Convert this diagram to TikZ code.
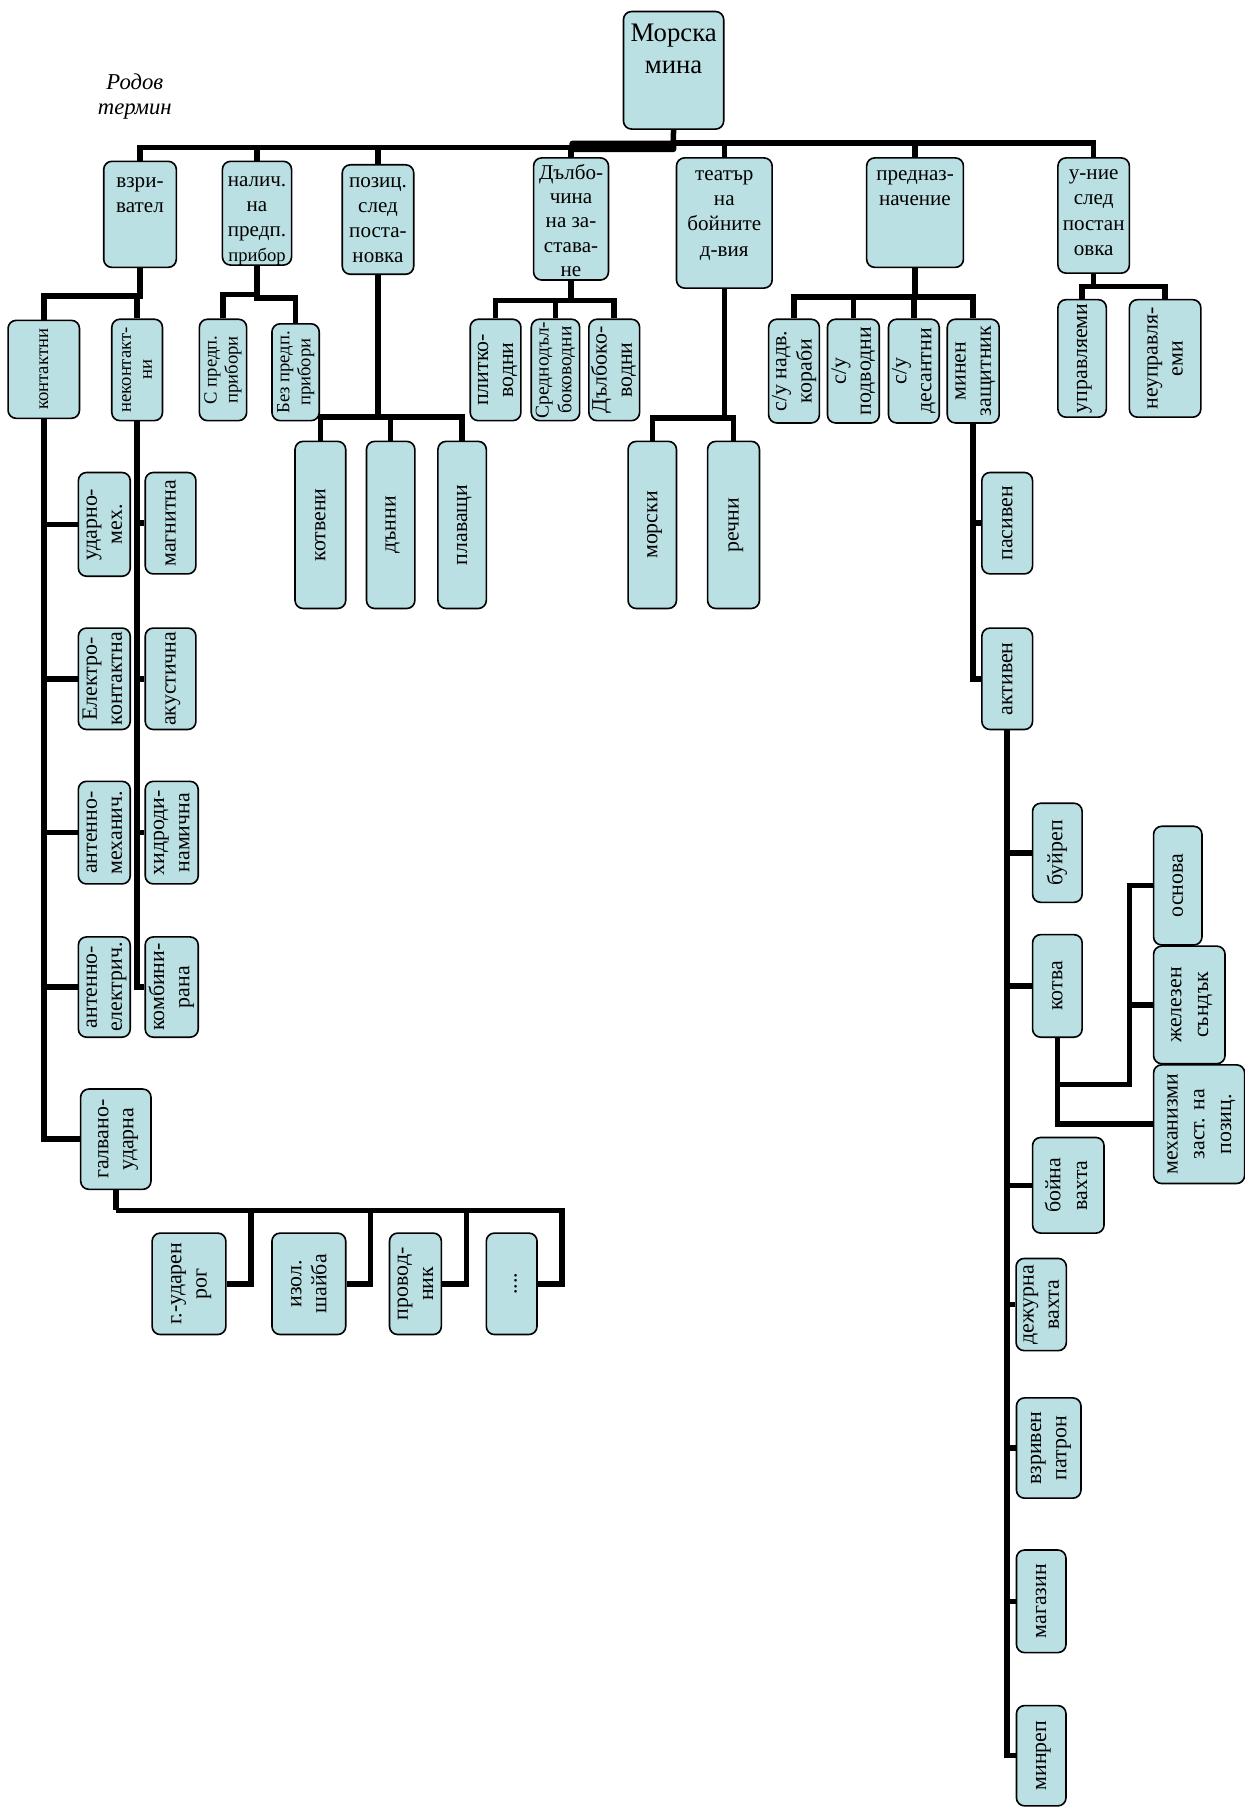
\documentclass[tikz,border=0pt]{standalone}
\usepackage{fontspec}
\setmainfont{Liberation Serif}
\usepackage{graphicx}
\definecolor{boxfill}{RGB}{187,224,227}
\newcommand{\vt}[1]{\rotatebox{90}{\begin{tabular}{@{}c@{}}#1\end{tabular}}}
\begin{document}
\begin{tikzpicture}[x=0.025cm, y=-0.025cm,
  box/.style={draw, line width=1pt, fill=boxfill, rounded corners=5pt, inner sep=0pt, font=\fontsize{13.5}{15.5}\selectfont},
  sz/.style 2 args={minimum width=#1*0.025cm, minimum height=#2*0.025cm},
  toptext/.style={anchor=north, align=center, inner sep=0pt, font=\fontsize{13}{15.5}\selectfont},
  small/.style={font=\fontsize{11.5}{13}\selectfont},
  mid/.style={font=\fontsize{12}{14}\selectfont},
  wide/.style={font=\fontsize{13.5}{16.5}\selectfont},
  link/.style={line width=3.4pt}
]
\useasboundingbox (0,0) rectangle (1080,1568);

% root and first row
\node[box, sz={87}{102}] (root) at (584.5,61) {};
\node[toptext, font=\fontsize{16.5}{20}\selectfont] (roott) at ([yshift=-4.5pt]root.north) {\strut Морска\\мина};
\node[font=\itshape\fontsize{14}{15.6}\selectfont, align=center] (rod) at (117,84) {Родов\\термин};

\node[box, sz={63}{92}] (vz) at (121.5,186) {};
\node[toptext] (vzt) at ([yshift=-5.5pt]vz.north) {\strut взри-\\вател};
\node[box, sz={60}{90}] (nal) at (223,185) {};
\node[toptext] (nalt) at ([yshift=-5pt]nal.north) {\strut налич.\\на\\предп.\\{\fontsize{11.5}{15.5}\selectfont прибор}};
\node[box, sz={62}{95}] (poz) at (328,190.5) {};
\node[toptext] (pozt) at ([yshift=-3.5pt]poz.north) {\strut позиц.\\след\\поста-\\новка};
\node[box, sz={65}{106}] (dal) at (495.5,190) {};
\node[toptext, font=\fontsize{13}{15}\selectfont] (dalt) at ([yshift=-3pt]dal.north) {\strut Дълбо-\\чина\\на за-\\става-\\не};
\node[box, sz={83}{113}] (teat) at (628.5,193.5) {};
\node[toptext] (teatt) at ([yshift=-3.5pt]teat.north) {\strut театър\\на\\бойните\\д-вия};
\node[box, sz={84}{95}] (pred) at (794,184.5) {};
\node[toptext] (predt) at ([yshift=-3.5pt]pred.north) {\strut предназ-\\начение};
\node[box, sz={62}{100}] (upr) at (949,187) {};
\node[toptext] (uprt) at ([yshift=-3pt]upr.north) {\strut у-ние\\след\\постан\\овка};

% second row
\node[box, small, sz={62}{85}] (kont) at (38,320.5) {\vt{контактни}\hspace{22pt}};
\node[box, small, sz={44}{88}] (nekont) at (119,321) {\vt{неконтакт-\\ни}};
\node[box, small, sz={41}{88}] (spr) at (193.5,321) {\vt{С предп.\\прибори}};
\node[box, small, sz={41}{84}] (bpr) at (256.5,323) {\vt{Без предп.\\прибори}};
\node[box, sz={44}{145}] (kotv) at (278,455.5) {\vt{котвени}};
\node[box, sz={42}{145}] (dan) at (339,455.5) {\vt{дънни}};
\node[box, sz={42}{145}] (plav) at (401,455.5) {\vt{плаващи}};
\node[box, sz={44}{88}] (plit) at (430,321) {\vt{плитко-\\водни}};
\node[box, mid, sz={42}{88}] (sred) at (482,321) {\vt{Среднодъл-\\боководни}};
\node[box, sz={44}{88}] (dalb) at (533,321) {\vt{Дълбоко-\\водни}};
\node[box, sz={42}{145}] (mor) at (566,455.5) {\vt{морски}};
\node[box, sz={45}{145}] (rech) at (636.5,455.5) {\vt{речни}};
\node[box, sz={44}{90}] (nadv) at (689,322) {\vt{с/у надв.\\кораби}};
\node[box, sz={45}{90}] (podv) at (740.5,322) {\vt{с/у\\подводни}};
\node[box, sz={44}{90}] (des) at (793,322) {\vt{с/у\\десантни}};
\node[box, sz={45}{90}] (zas) at (844.5,322) {\vt{минен\\защитник}};
\node[box, sz={42}{102}] (uprm) at (939,311) {\vt{управляеми}};
\node[box, sz={62}{102}] (neupr) at (1011,311) {\vt{неуправля-\\еми}};

% взривател
\node[box, sz={45}{90}] (udm) at (90.5,455) {\vt{ударно-\\мех.}};
\node[box, sz={45}{88}] (elk) at (90.5,589) {\vt{Електро-\\контактна}};
\node[box, sz={45}{89}] (anm) at (90.5,722.5) {\vt{антенно-\\механич.}};
\node[box, sz={45}{87}] (ane) at (90.5,856.5) {\vt{антенно-\\електрич.}};
\node[box, sz={61}{87}] (galv) at (100.5,988.5) {\vt{галвано-\\ударна}};
\node[box, sz={44}{88}] (mag) at (148,454) {\vt{магнитна}};
\node[box, sz={44}{88}] (akus) at (148,589) {\vt{акустична}};
\node[box, sz={46}{89}] (hidr) at (149,722.5) {\vt{хидроди-\\намична}};
\node[box, sz={46}{87}] (komb) at (149,856.5) {\vt{комбини-\\рана}};
\node[box, sz={64}{88}] (rog) at (164,1114) {\vt{г.-ударен\\рог}};
\node[box, sz={64}{88}] (shai) at (268,1114) {\vt{изол.\\шайба}};
\node[box, sz={45}{88}] (prov) at (360.5,1114) {\vt{провод-\\ник}};
\node[box, sz={44}{88}] (dots) at (444,1114) {\vt{....}};

% минен защитник
\node[box, sz={44}{88}] (pas) at (874,454) {\vt{пасивен}};
\node[box, sz={44}{88}] (akt) at (874,589) {\vt{активен}};
\node[box, sz={43}{86}] (buir) at (917.5,740) {\vt{буйреп}};
\node[box, sz={43}{89}] (kotva) at (917.5,855.5) {\vt{котва}};
\node[box, sz={42}{103}] (osn) at (1022,768.5) {\vt{основа}};
\node[box, wide, sz={62}{102}] (zhel) at (1032,872) {\vt{железен\\съндък}};
\node[box, wide, sz={79}{103}] (mech) at (1040.5,975.5) {\vt{механизми\\заст. на\\позиц.}};
\node[box, wide, sz={62}{83}] (boin) at (927,1028.5) {\vt{бойна\\вахта}};
\node[box, sz={43}{80}] (dej) at (903.5,1132) {\vt{дежурна\\вахта}};
\node[box, sz={56}{87}] (vzr) at (910,1256.5) {\vt{взривен\\патрон}};
\node[box, sz={43}{89}] (mag2) at (903.5,1389.5) {\vt{магазин}};
\node[box, sz={43}{87}] (minr) at (903.5,1523.5) {\vt{минреп}};

% connectors
\coordinate (busL) at (584,128);
\coordinate (busR) at (584,124);
\fill[rounded corners=2pt] (494,122) rectangle (587,132);
\draw[link] (root.south) -- (busL);
\foreach \n in {vz,nal,poz,dal} \draw[link] (\n.north) |- (busL);
\foreach \n in {teat,pred,upr} \draw[link] (\n.north) |- (busR);

\draw[link] (vz.south) -- ++(0,24) coordinate (vzb) -| (kont.north) (vzb) -| (nekont.north);
\foreach \n in {udm,elk,anm,ane,galv} \draw[link] (kont.south) |- (\n.west);
\foreach \n in {mag,akus,hidr,komb} \draw[link] (nekont.south) |- (\n.west);
\draw[link] (galv.south) -- ++(0,17.5) coordinate (gvb);
\foreach \n in {rog,shai,prov,dots} \draw[link] (\n.east) -- ++(21,0) |- (gvb);

\draw[link] (nal.south) -- ++(0,25) -| (spr.north);
\draw[link] (nal.south) -- ++(0,28) -| (bpr.north);
\draw[link] (poz.south) -- ++(0,123) coordinate (pzb) -| (kotv.north) (pzb) -| (dan.north) (pzb) -| (plav.north);
\draw[link] (dal.south) -- ++(0,17) coordinate (dlb) -| (plit.north) (dlb) -| (sred.north) (dlb) -| (dalb.north);
\draw[link] (teat.south) -- ++(0,112) coordinate (tb) -| (mor.north) (tb) -| (rech.north);
\draw[link] (pred.south) -- ++(0,25) coordinate (pb) -| (nadv.north) (pb) -| (podv.north) (pb) -| (des.north) (pb) -| (zas.north);
\draw[link] (upr.south) -- ++(0,11) coordinate (ub) -| (uprm.north) (ub) -| (neupr.north);

\foreach \n in {pas,akt} \draw[link] (zas.south) |- (\n.west);
\foreach \n in {buir,kotva,boin,dej,vzr,mag2,minr} \draw[link] (akt.south) |- (\n.west);
\coordinate (kb) at (980,941);
\draw[link] (kotva.south) |- (mech.west);
\draw[link] (kotva.south |- kb) -- (kb) |- (osn.west);
\draw[link] (kb |- zhel.west) -- (zhel.west);
\end{tikzpicture}
\end{document}
